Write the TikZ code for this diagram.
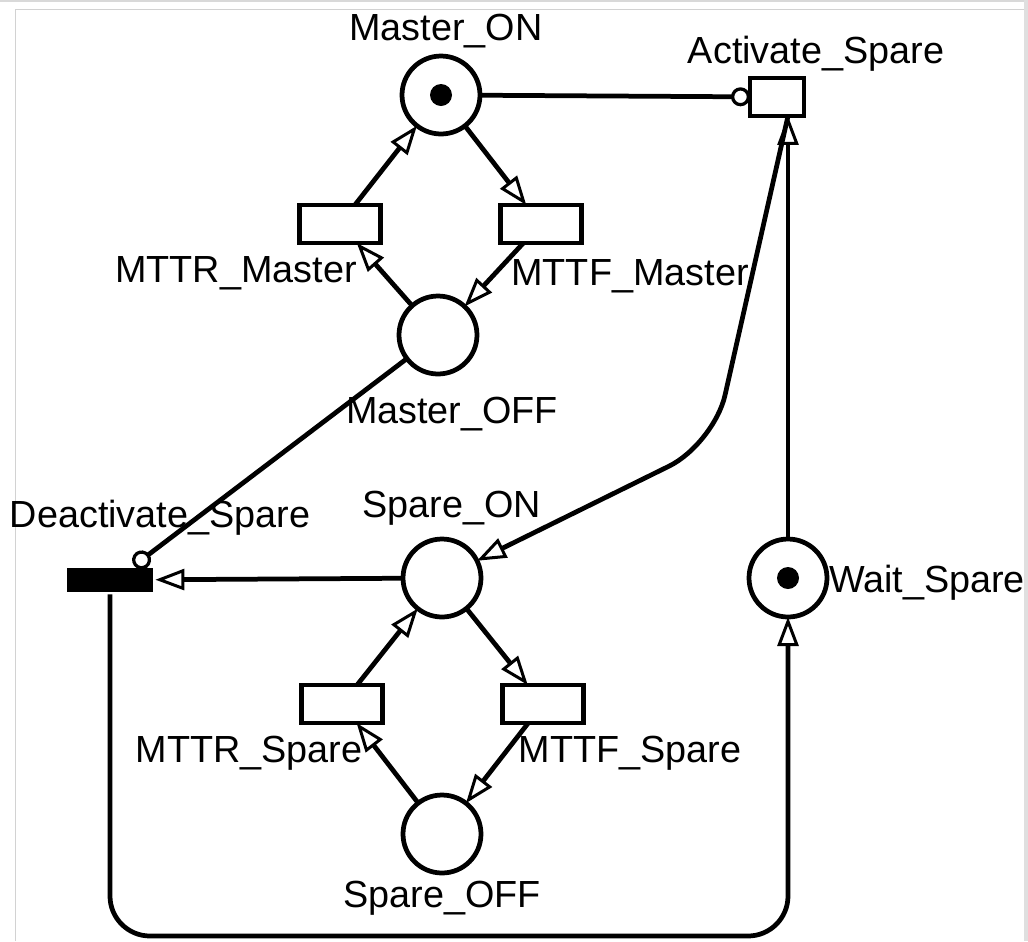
\documentclass[tikz,border=0pt]{standalone}
\usepackage{fontspec}
\setmainfont{Liberation Sans}
\usetikzlibrary{arrows.meta}

\begin{document}
\begin{tikzpicture}[x=0.02cm, y=-0.02cm, line width=0.095cm,
    place/.style={circle, draw, minimum size=1.56cm, inner sep=0pt, outer sep=0pt},
    trans/.style={rectangle, draw, minimum width=1.62cm, minimum height=0.76cm, inner sep=0pt, outer sep=0pt},
    token/.style={circle, fill, minimum size=0.44cm, inner sep=0pt},
    lbl/.style={font=\fontsize{21.5}{25}\selectfont, inner sep=0pt, anchor=base},
    flow/.style={-{Triangle[open, length=0.58cm, width=0.42cm, line width=0.06cm]}},
    inhib/.style={-{Circle[open, length=0.38cm, line width=0.065cm]}}]
        \useasboundingbox (0,0) rectangle (1028,941);
        %frame of the screenshot
        \fill[gray!30] (0,0) rectangle (1028,2);
        \fill[gray!25] (1024,0) rectangle (1028,941);
        \draw[gray!35, line width=0.02cm] (15,941) -- (15,9) -- (1024,9);

        %places
        \node[place] (mon) at (441,95) {};
        \node[token] (mon tok) at (441,95) {};
        \node[place] (moff) at (438,335) {};
        \node[place] (son) at (442,578) {};
        \node[place] (soff) at (442,834) {};
        \node[place] (wait) at (788,578) {};
        \node[token] (wait tok) at (788,578) {};

        %transitions
        \node[trans, minimum width=1.08cm, minimum height=0.76cm] (act) at (777,97) {};
        \node[trans] (mtrm) at (340,224) {};
        \node[trans] (mtfm) at (541,224) {};
        \node[trans] (mtrs) at (342,704) {};
        \node[trans] (mtfs) at (543,704) {};
        \node[rectangle, fill, minimum width=1.72cm, minimum height=0.48cm, inner sep=0pt] (deact) at (110,580) {};

        %labels
        \node[lbl] (mon lbl) at (446,40) {Master\_ON};
        \node[lbl] (act lbl) at (816,63) {Activate\_Spare};
        \node[lbl] (mtrm lbl) at (236,282) {MTTR\_Master};
        \node[lbl] (mtfm lbl) at (630,285) {MTTF\_Master};
        \node[lbl] (moff lbl) at (452,423) {Master\_OFF};
        \node[lbl] (deact lbl) at (160,527) {Deactivate\_Spare};
        \node[lbl] (son lbl) at (452,517) {Spare\_ON};
        \node[lbl] (wait lbl) at (927,592) {Wait\_Spare};
        \node[lbl] (mtrs lbl) at (249,762) {MTTR\_Spare};
        \node[lbl] (mtfs lbl) at (630,762) {MTTF\_Spare};
        \node[lbl] (soff lbl) at (442,907) {Spare\_OFF};

        %helper points
        \coordinate (act in) at (wait |- act.south);
        \coordinate (deact in) at ([xshift=0.48cm]deact.north);
        \coordinate (bend) at (714,444);
        \coordinate (low left) at (110,936);
        \coordinate (low right) at (788,936);

        %edges
        \draw[flow] (mtrm) -- (mon);
        \draw[flow] (mon) -- (mtfm);
        \draw[flow] (mtfm) -- (moff);
        \draw[flow] (moff) -- (mtrm);
        \draw[flow] (mtrs) -- (son);
        \draw[flow] (son) -- (mtfs);
        \draw[flow] (mtfs) -- (soff);
        \draw[flow] (soff) -- (mtrs);
        \draw[inhib] (mon) -- (act);
        \draw[inhib] (moff) -- (deact in);
        \draw[flow] (son) -- (deact);
        \draw[flow] (wait) -- (act in);
        \draw[flow, rounded corners=1cm] (act in) -- (bend) -- (son);
        \draw[flow, rounded corners=0.8cm] (deact) -- (low left) -- (low right) -- (wait);
    \end{tikzpicture}
\end{document}
